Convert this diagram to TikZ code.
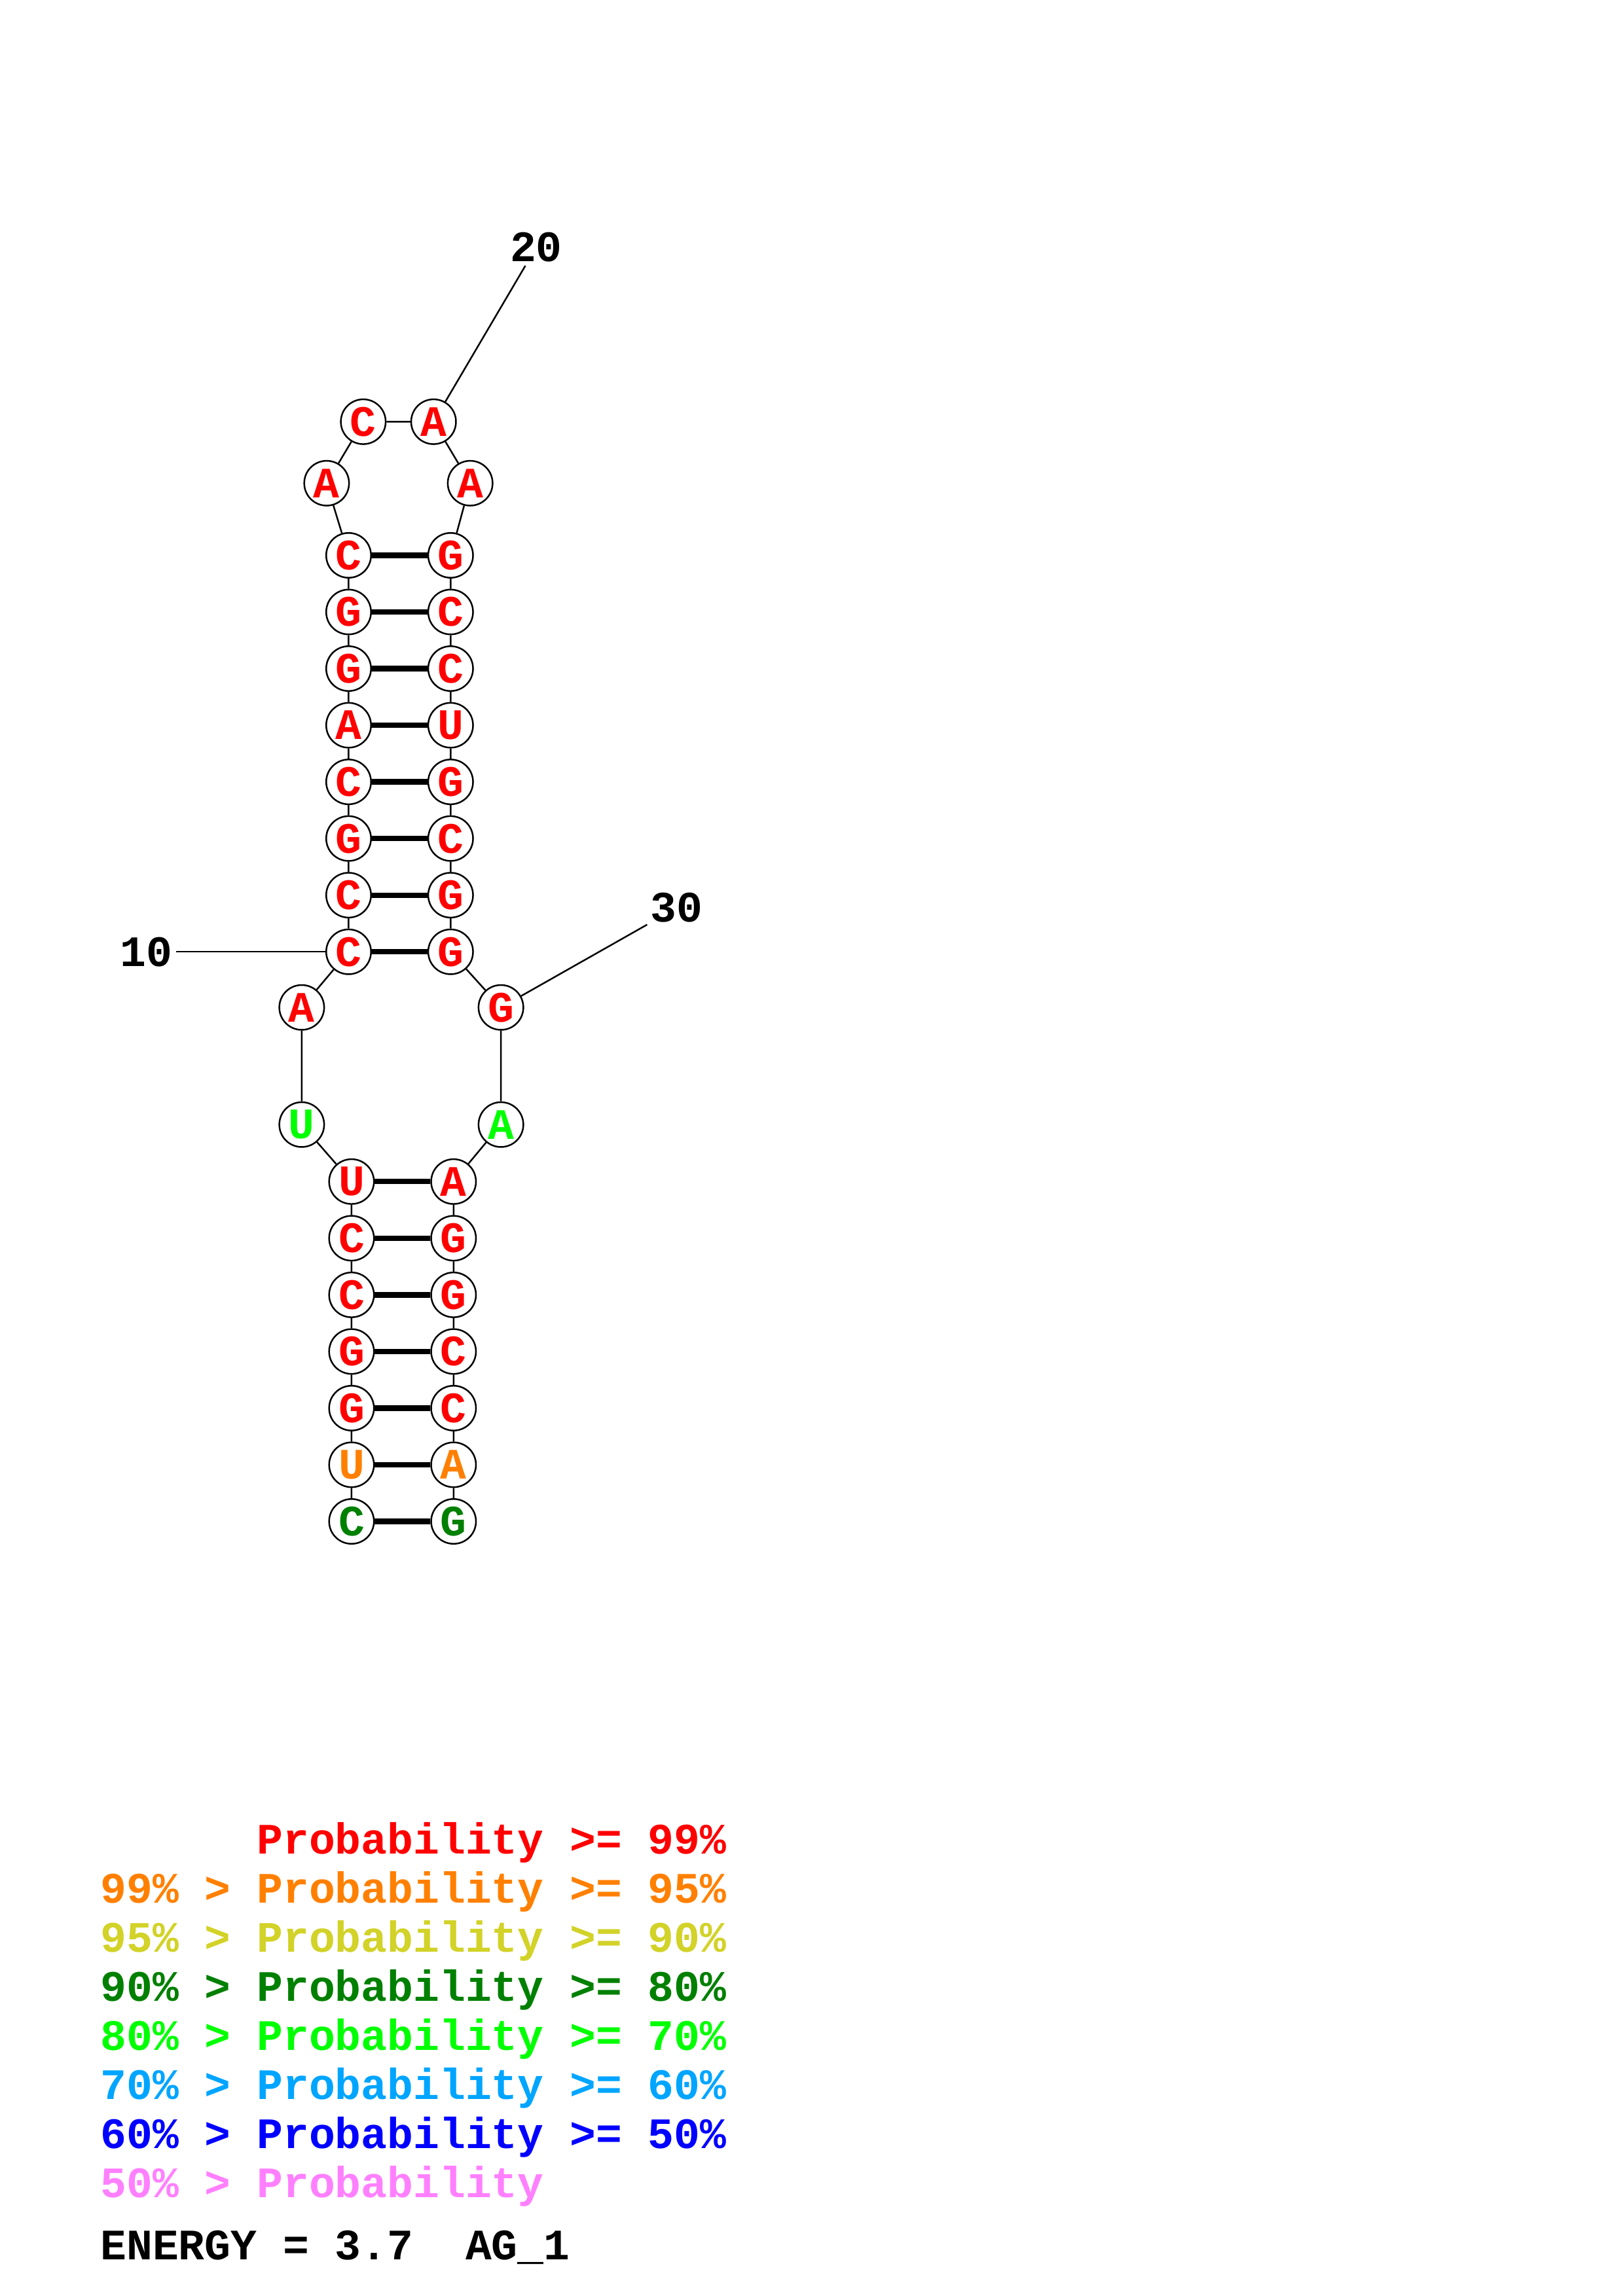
\documentclass[tikz,border=0pt]{standalone}
\usepackage{fontspec}
\setmonofont{Liberation Mono}
\usepackage{tikz}
\usetikzlibrary{positioning}

\definecolor{p99}{RGB}{255,0,0}
\definecolor{p95}{RGB}{255,128,0}
\definecolor{p90}{RGB}{210,210,40}
\definecolor{p80}{RGB}{0,128,0}
\definecolor{p70}{RGB}{0,255,0}
\definecolor{p60}{RGB}{0,165,255}
\definecolor{p50}{RGB}{0,0,255}
\definecolor{p00}{RGB}{255,128,255}

\begin{document}
\begin{tikzpicture}[x=0.01895cm, y=-0.01895cm, node distance={0.733cm}, on grid,
		main/.style={draw,circle,fill=white,minimum size=0.58cm,inner sep=0pt,text=p99},
		pair/.style={line width=2pt},
		num/.style={inner sep=1pt},
		legend/.style={anchor=base west,inner sep=0pt},
		line width=0.6pt, font=\ttfamily\bfseries\fontsize{16}{18}\selectfont]
		\useasboundingbox (0,0) rectangle (1108,1568);

		% 5' stem
		\node[main,text=p80] (1) at (240,1039) {C};
		\node[main,text=p95] (2) [above=of 1] {U};
		\node[main] (3) [above=of 2] {G};
		\node[main] (4) [above=of 3] {G};
		\node[main] (5) [above=of 4] {C};
		\node[main] (6) [above=of 5] {C};
		\node[main] (7) [above=of 6] {U};
		\node[main,text=p70] (8) at (206,768) {U};
		\node[main] (9) at (206,688) {A};
		\node[main] (10) at (238,650) {C};
		\node[main] (11) [above=of 10] {C};
		\node[main] (12) [above=of 11] {G};
		\node[main] (13) [above=of 12] {C};
		\node[main] (14) [above=of 13] {A};
		\node[main] (15) [above=of 14] {G};
		\node[main] (16) [above=of 15] {G};
		\node[main] (17) [above=of 16] {C};

		% hairpin loop
		\node[main] (18) at (223,330) {A};
		\node[main] (19) at (248,288) {C};
		\node[main] (20) at (296,288) {A};
		\node[main] (21) at (321,330) {A};

		% 3' side
		\node[main] (22) [right=1.32cm of 17] {G};
		\node[main] (23) [below=of 22] {C};
		\node[main] (24) [below=of 23] {C};
		\node[main] (25) [below=of 24] {U};
		\node[main] (26) [below=of 25] {G};
		\node[main] (27) [below=of 26] {C};
		\node[main] (28) [below=of 27] {G};
		\node[main] (29) [below=of 28] {G};
		\node[main] (30) at (342,688) {G};
		\node[main,text=p70] (31) at (342,768) {A};
		\node[main] (32) [right=1.32cm of 7] {A};
		\node[main] (33) [below=of 32] {G};
		\node[main] (34) [below=of 33] {G};
		\node[main] (35) [below=of 34] {C};
		\node[main] (36) [below=of 35] {C};
		\node[main,text=p95] (37) [below=of 36] {A};
		\node[main,text=p80] (38) [below=of 37] {G};

		% backbone
		\draw (1) -- (2) -- (3) -- (4) -- (5) -- (6) -- (7) -- (8) -- (9) -- (10)
			-- (11) -- (12) -- (13) -- (14) -- (15) -- (16) -- (17) -- (18) -- (19) -- (20)
			-- (21) -- (22) -- (23) -- (24) -- (25) -- (26) -- (27) -- (28) -- (29) -- (30)
			-- (31) -- (32) -- (33) -- (34) -- (35) -- (36) -- (37) -- (38);

		% base pairs
		\draw[pair] (1) -- (38) (2) -- (37) (3) -- (36) (4) -- (35) (5) -- (34) (6) -- (33) (7) -- (32);
		\draw[pair] (10) -- (29) (11) -- (28) (12) -- (27) (13) -- (26) (14) -- (25) (15) -- (24) (16) -- (23) (17) -- (22);

		% numbering
		\node[num] (l10) at (100,650) {10};
		\node[num] (l20) at (366,169) {20};
		\node[num] (l30) at (462,620) {30};
		\draw (l10) -- (10);
		\draw (l20) -- (20);
		\draw (l30) -- (30);

		% legend
		\node[legend,text=p99] (k99) at (68,1266) {\phantom{99\% > }Probability >= 99\%};
		\node[legend,text=p95] (k95) at (68,1299.5) {99\% > Probability >= 95\%};
		\node[legend,text=p90] (k90) at (68,1333) {95\% > Probability >= 90\%};
		\node[legend,text=p80] (k80) at (68,1366.5) {90\% > Probability >= 80\%};
		\node[legend,text=p70] (k70) at (68,1400) {80\% > Probability >= 70\%};
		\node[legend,text=p60] (k60) at (68,1433.5) {70\% > Probability >= 60\%};
		\node[legend,text=p50] (k50) at (68,1467) {60\% > Probability >= 50\%};
		\node[legend,text=p00] (k00) at (68,1500.5) {50\% > Probability};
		\node[legend] (energy) at (68,1543) {ENERGY = 3.7\ \ AG\_1};
	\end{tikzpicture}
\end{document}
